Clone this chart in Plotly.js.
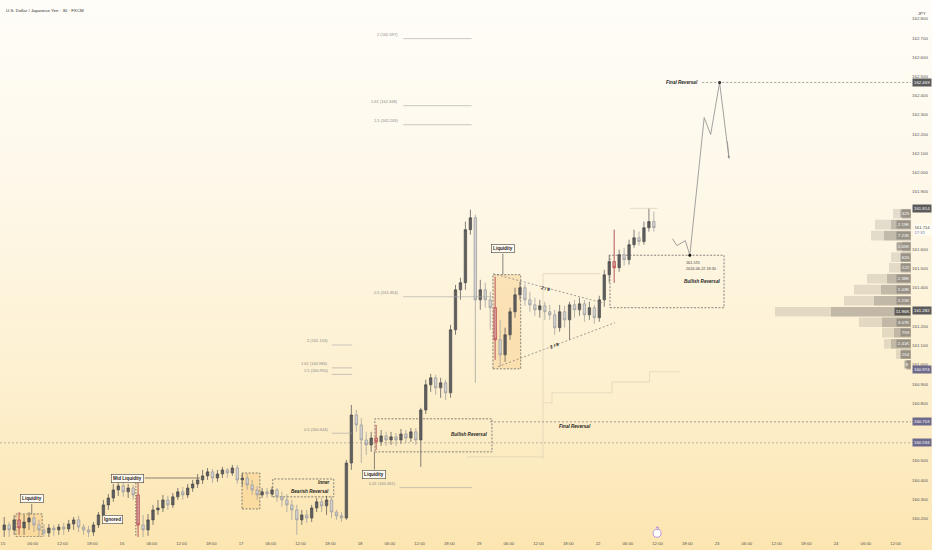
<!DOCTYPE html>
<html>
<head>
<meta charset="utf-8">
<script src="https://cdn.plot.ly/plotly-3.0.1.min.js"></script>
<style>
  html, body { margin: 0; padding: 0; }
  #chart {
    width: 932px;
    height: 550px;
    background: linear-gradient(to bottom, #fffdf8 0%, #fef8e9 35%, #fdf0cf 70%, #fce5b0 100%);
  }
</style>
</head>
<body>
<div id="chart"></div>
<script>
const FONT = "Liberation Sans, Arial, sans-serif";

// time axis: trading hours counted from day 15 00:00 (weekend skipped)
const dayLabels = ["15", "16", "17", "18", "19", "22", "23", "24"];
const hourLabels = ["06:00", "12:00", "18:00"];

// hourly candles, USDJPY
const open = [
  160.141, 160.167, 160.141, 160.193, 160.151, 160.182, 160.203, 160.167, 160.141, 160.125,
  160.151, 160.141, 160.156, 160.146, 160.172, 160.193, 160.156, 160.141, 160.130, 160.167,
  160.219, 160.271, 160.307, 160.349, 160.370, 160.339, 160.359, 160.323, 160.167, 160.141,
  160.193, 160.245, 160.255, 160.297, 160.271, 160.313, 160.339, 160.323, 160.359, 160.380,
  160.401, 160.422, 160.443, 160.411, 160.432, 160.453, 160.437, 160.463, 160.401, 160.411,
  160.375, 160.349, 160.323, 160.339, 160.328, 160.349, 160.313, 160.297, 160.271, 160.245,
  160.193, 160.219, 160.203, 160.255, 160.287, 160.266, 160.297, 160.234, 160.214, 160.203,
  160.489, 160.739, 160.687, 160.609, 160.583, 160.619, 160.599, 160.630, 160.609, 160.625,
  160.609, 160.640, 160.619, 160.651, 160.609, 160.765, 160.896, 160.932, 160.880, 160.906,
  160.854, 161.182, 161.390, 161.427, 161.703, 161.765, 161.338, 161.390, 161.338, 161.297,
  161.130, 161.052, 161.156, 161.276, 161.364, 161.401, 161.338, 161.312, 161.286, 161.307,
  161.276, 161.260, 161.193, 161.276, 161.234, 161.312, 161.286, 161.317, 161.260, 161.297,
  161.245, 161.338, 161.468, 161.537, 161.505, 161.573, 161.547, 161.625, 161.661, 161.641,
  161.713, 161.745
];
const high = [
  160.208, 160.182, 160.219, 160.234, 160.219, 160.234, 160.224, 160.193, 160.172, 160.172,
  160.167, 160.172, 160.177, 160.193, 160.208, 160.214, 160.172, 160.162, 160.182, 160.234,
  160.297, 160.328, 160.380, 160.391, 160.391, 160.380, 160.375, 160.391, 160.219, 160.224,
  160.271, 160.297, 160.323, 160.318, 160.333, 160.359, 160.365, 160.380, 160.401, 160.432,
  160.453, 160.463, 160.458, 160.453, 160.469, 160.463, 160.479, 160.479, 160.437, 160.432,
  160.401, 160.370, 160.359, 160.359, 160.365, 160.359, 160.339, 160.328, 160.297, 160.271,
  160.245, 160.245, 160.271, 160.307, 160.307, 160.318, 160.313, 160.245, 160.234, 160.505,
  160.791, 160.765, 160.723, 160.651, 160.651, 160.687, 160.661, 160.651, 160.651, 160.645,
  160.666, 160.661, 160.671, 160.671, 160.776, 160.922, 160.953, 160.948, 160.932, 160.922,
  161.208, 161.416, 161.453, 161.745, 161.807, 161.781, 161.442, 161.427, 161.380, 161.458,
  161.234, 161.193, 161.297, 161.401, 161.432, 161.421, 161.380, 161.349, 161.338, 161.328,
  161.312, 161.286, 161.312, 161.307, 161.328, 161.338, 161.349, 161.338, 161.328, 161.312,
  161.359, 161.494, 161.573, 161.703, 161.599, 161.609, 161.651, 161.703, 161.693, 161.745,
  161.814, 161.797
];
const low = [
  160.104, 160.104, 160.115, 160.115, 160.115, 160.141, 160.130, 160.104, 160.104, 160.104,
  160.110, 160.115, 160.115, 160.130, 160.141, 160.130, 160.115, 160.104, 160.110, 160.151,
  160.203, 160.245, 160.287, 160.318, 160.313, 160.307, 160.297, 160.104, 160.104, 160.110,
  160.167, 160.219, 160.234, 160.245, 160.255, 160.297, 160.297, 160.307, 160.339, 160.359,
  160.380, 160.401, 160.385, 160.391, 160.411, 160.411, 160.422, 160.380, 160.370, 160.349,
  160.323, 160.297, 160.307, 160.307, 160.313, 160.287, 160.261, 160.234, 160.193, 160.115,
  160.167, 160.177, 160.182, 160.234, 160.234, 160.219, 160.203, 160.193, 160.182, 160.193,
  160.453, 160.651, 160.489, 160.531, 160.547, 160.557, 160.578, 160.578, 160.583, 160.578,
  160.588, 160.593, 160.599, 160.583, 160.469, 160.744, 160.859, 160.844, 160.828, 160.817,
  160.828, 161.156, 161.338, 161.390, 161.677, 160.906, 161.286, 161.297, 161.182, 161.026,
  160.989, 161.015, 161.130, 161.245, 161.338, 161.307, 161.276, 161.255, 161.245, 161.234,
  161.234, 161.156, 161.172, 161.193, 161.130, 161.245, 161.255, 161.224, 161.234, 161.213,
  161.224, 161.302, 161.427, 161.427, 161.484, 161.516, 161.521, 161.609, 161.620, 161.625,
  161.693, 161.693
];
const close = [
  160.167, 160.141, 160.193, 160.151, 160.182, 160.203, 160.167, 160.141, 160.125, 160.151,
  160.141, 160.156, 160.146, 160.172, 160.193, 160.156, 160.141, 160.130, 160.167, 160.219,
  160.271, 160.307, 160.349, 160.370, 160.339, 160.359, 160.323, 160.167, 160.141, 160.193,
  160.245, 160.255, 160.297, 160.271, 160.313, 160.339, 160.323, 160.359, 160.380, 160.401,
  160.422, 160.443, 160.411, 160.432, 160.453, 160.437, 160.463, 160.401, 160.411, 160.375,
  160.349, 160.323, 160.339, 160.328, 160.349, 160.313, 160.297, 160.271, 160.245, 160.193,
  160.219, 160.203, 160.255, 160.287, 160.266, 160.297, 160.234, 160.214, 160.203, 160.489,
  160.739, 160.687, 160.609, 160.583, 160.619, 160.599, 160.630, 160.609, 160.625, 160.609,
  160.640, 160.619, 160.651, 160.609, 160.765, 160.896, 160.932, 160.880, 160.906, 160.854,
  161.182, 161.390, 161.427, 161.703, 161.765, 161.338, 161.390, 161.338, 161.297, 161.130,
  161.052, 161.156, 161.276, 161.364, 161.401, 161.338, 161.312, 161.286, 161.307, 161.276,
  161.260, 161.193, 161.276, 161.234, 161.312, 161.286, 161.317, 161.260, 161.297, 161.245,
  161.338, 161.468, 161.537, 161.505, 161.573, 161.547, 161.625, 161.661, 161.641, 161.713,
  161.745, 161.714
];
// candles marked red inside the liquidity boxes
const highlighted = [3, 27, 75, 99, 123];

// projected path drawn after the last candle
const projTime = [135.0, 135.9, 137.6, 138.5, 141.4, 142.7, 144.5, 146.4];
const projPrice = [161.656, 161.620, 161.646, 161.570, 162.286, 162.198, 162.469, 162.073];
const pivotTime = [138.5, 144.5];
const pivotPrice = [161.570, 162.469];

// volume profile rows
const profilePrice = [161.786, 161.729, 161.672, 161.615, 161.560, 161.505, 161.448, 161.391,
  161.333, 161.276, 161.221, 161.167, 161.109, 161.055, 161.000];
const profileTotal = [18, 36, 40, 14, 20, 22, 44, 57, 67, 136, 52, 29, 27, 15, 5];
const profileUp = [9, 20, 27, 9, 10, 10, 24, 30, 37, 80, 29, 17, 20, 10, 4];
const profileLabel = ["325", "2.19K", "7.21K", "1.65K", "620", "122", "2.38K", "1.03K",
  "2.21K", "11.96K", "3.07K", "759", "2.41K", "154", "8"];

// boxed values on the price scale
const markPrice = [162.469, 161.814, 161.282, 160.974, 160.703, 160.594];
const markColor = ["#5b5b5b", "#5b5b5b", "#5b5b5b", "#6e6a8c", "#6e6a8c", "#6e6a8c"];
const priceTicks = [160.2, 160.3, 160.4, 160.5, 160.6, 160.7, 160.8, 160.9, 161.0, 161.1, 161.2,
  161.3, 161.4, 161.5, 161.6, 161.7, 161.8, 161.9, 162.0, 162.1, 162.2, 162.3, 162.4, 162.5,
  162.6, 162.7, 162.8];

const X_MIN = -0.6, X_MAX = 183.1;
const lastClose = close[close.length - 1];

const tickvals = [], ticktext = [];
dayLabels.forEach((d, i) => {
  tickvals.push(i * 24);
  ticktext.push(d);
  hourLabels.forEach((h, j) => {
    tickvals.push(i * 24 + (j + 1) * 6);
    ticktext.push(h);
  });
});

// price ticks hidden behind the boxed labels are left out
const covered = markPrice.concat([lastClose]);
const yTicks = priceTicks.filter((p) => covered.every((m) => Math.abs(m - p) > 0.025));

const t = open.map((_, i) => i + 0.25);
const pick = (arr) => arr.map((v, i) => (highlighted.includes(i) ? v : null));

const shapes = [];
function line(x0, y0, x1, y1, color, dash, width) {
  shapes.push({ type: "line", xref: "x", yref: "y", x0, y0, x1, y1,
    line: { color: color || "#555", width: width || 0.7, dash: dash || "solid" } });
}
function box(x0, x1, y0, y1, fill) {
  shapes.push({ type: "rect", xref: "x", yref: "y", x0, x1, y0, y1, layer: "below",
    fillcolor: fill || "rgba(0,0,0,0)", line: { color: "#555", width: 0.7, dash: "2px,1.5px" } });
}

const annotations = [];
function note(x, y, text, opts) {
  annotations.push(Object.assign({ x, y, xref: "x", yref: "y", text, showarrow: false,
    font: { family: FONT, size: 4.6, color: "#1e1e1e" } }, opts || {}));
}
function tag(x, y, text) {
  note(x, y, "<b>" + text + "</b>", { bgcolor: "#fffaf0", bordercolor: "#444", borderwidth: 0.6, borderpad: 1.5,
    font: { family: FONT, size: 4.6, color: "#1e1e1e" } });
}
function fib(label, level, xLabel, x0, x1) {
  line(x0, level, x1, level, "#a6a6a6", "solid", 0.6);
  note(xLabel, level, label, { xanchor: "right", yshift: 4, font: { family: FONT, size: 4, color: "#8a8a8a" } });
}
const bi = (s) => "<b><i>" + s + "</i></b>";
const ORANGE = "rgba(248,196,120,0.38)";
const FAINT = "#dcd1b6";
const DASH = "2px,2px";

// day 15 / 16
box(2.6, 7.9, 160.105, 160.224, ORANGE);
line(5.8, 160.276, 5.8, 160.224, "#555");
tag(5.8, 160.302, "Liquidity");
tag(22.0, 160.193, "Ignored");
line(28.6, 160.411, 39.7, 160.411, "#555");
line(26.8, 160.385, 26.8, 160.11, "#333", "1.5px,1.5px");
tag(25.2, 160.411, "Mid Liquidity");

// day 17
box(48.2, 51.8, 160.250, 160.437, ORANGE);
box(54.4, 66.7, 160.313, 160.406);
note(66.1, 160.385, bi("Inner"), { xanchor: "right" });
note(66.1, 160.343, bi("Bearish Reversal"), { xanchor: "right" });

// day 18
box(75.0, 98.6, 160.547, 160.719);
note(98.0, 160.636, bi("Bullish Reversal"), { xanchor: "right" });
line(74.9, 160.547, 74.9, 160.455, "#555");
tag(74.9, 160.427, "Liquidity");

fib("2 (161.103)", 161.103, 65.9, 66.3, 70.4);
fib("1.61 (160.984)", 160.984, 65.9, 66.3, 70.4);
fib("1.5 (160.950)", 160.950, 65.9, 66.3, 70.4);
fib("0.5 (160.644)", 160.644, 65.9, 66.3, 70.4);
fib("0.41 (160.361)", 160.361, 79.6, 80.0, 94.6);
fib("2 (162.697)", 162.697, 80.0, 80.7, 94.5);
fib("1.61 (162.348)", 162.348, 80.0, 80.7, 94.5);
fib("1.5 (162.249)", 162.249, 80.0, 80.7, 94.5);
fib("0.5 (161.354)", 161.354, 80.0, 80.7, 98.8);

// day 19 triangle
box(98.8, 104.4, 160.979, 161.469, ORANGE);
line(100.8, 161.578, 100.8, 161.469, "#555");
tag(100.8, 161.604, "Liquidity");
line(98.8, 161.474, 120.8, 161.323, "#777", DASH);
line(99.8, 160.990, 123.4, 161.219, "#777", DASH);
note(109.3, 161.396, "<b>2 / 8</b>", { textangle: 15 });
note(111.3, 161.100, "<b>2 / 8</b>", { textangle: -21 });

// faint structure lines
line(108.9, 160.510, 108.9, 161.474, FAINT);
line(108.9, 161.474, 120.4, 161.474, FAINT);
line(93.5, 160.521, 108.9, 160.521, FAINT);
line(108.9, 160.802, 110.7, 160.802, FAINT);
line(110.7, 160.802, 110.7, 160.854, FAINT);
line(110.7, 160.854, 122.8, 160.854, FAINT);
line(122.8, 160.854, 122.8, 160.911, FAINT);
line(122.8, 160.911, 130.4, 160.911, FAINT);
line(130.4, 160.911, 130.4, 160.964, FAINT);
line(130.4, 160.964, 136.5, 160.964, FAINT);
line(126.4, 161.814, 132.0, 161.814, FAINT);

// day 22 / projection
box(122.4, 145.4, 161.297, 161.570);
note(145.0, 161.432, bi("Bullish Reversal"), { xanchor: "right" });
note(137.4, 161.528, "161.570", { xanchor: "left", font: { family: FONT, size: 3.8, color: "#444" } });
note(137.4, 161.497, "2024-06-22 18:30", { xanchor: "left", font: { family: FONT, size: 3.8, color: "#444" } });
line(141.0, 162.469, X_MAX, 162.469, "#777", DASH);
note(140.6, 162.469, bi("Final Reversal"), { xanchor: "right" });
line(98.2, 160.703, X_MAX, 160.703, "#777", DASH);
note(115.3, 160.677, bi("Final Reversal"));
line(X_MIN, 160.594, X_MAX, 160.594, "#888", DASH, 0.6);
annotations.push({ x: projTime[projTime.length - 1], y: projPrice[projPrice.length - 1], xref: "x", yref: "y",
  ax: 146.05, ay: 162.17, axref: "x", ayref: "y", text: "", showarrow: true,
  arrowhead: 2, arrowsize: 0.7, arrowwidth: 0.7, arrowcolor: "#8c8c8c" });

// economic event marker
shapes.push({ type: "circle", xref: "x", yref: "paper", x0: 131.1, x1: 132.7, y0: -0.0005, y1: 0.0145,
  fillcolor: "#ffffff", line: { color: "#9b6fe0", width: 0.7 } });
annotations.push({ x: 131.9, y: 0.007, xref: "x", yref: "paper", text: "ϟ", showarrow: false,
  font: { family: FONT, size: 5, color: "#8f5fdc" } });

// volume profile labels
profileLabel.forEach((s, i) => {
  const poc = profileTotal[i] === Math.max(...profileTotal);
  annotations.push({ x: 0, y: profilePrice[i], xref: "x2", yref: "y", xanchor: "right", text: s, showarrow: false,
    bgcolor: poc ? "rgba(88,84,78,0.92)" : "rgba(120,113,104,0.55)", borderpad: 0.8,
    font: { family: FONT, size: 4.4, color: "#ffffff" } });
});

// price scale boxes
markPrice.forEach((p, i) => {
  annotations.push({ x: 1, y: p, xref: "paper", yref: "y", xanchor: "left", xshift: 1, text: p.toFixed(3),
    showarrow: false, bgcolor: markColor[i], borderpad: 1, font: { family: FONT, size: 4.3, color: "#ffffff" } });
});
annotations.push({ x: 1, y: lastClose, xref: "paper", yref: "y", xanchor: "left", xshift: 2, yshift: -2,
  text: lastClose.toFixed(3) + "<br><span style='color:#6a7bb0'>17:31</span>", showarrow: false,
  bgcolor: "rgba(255,253,245,0.85)", borderpad: 0.5, align: "left", font: { family: FONT, size: 4.2, color: "#444" } });

annotations.push({ x: 0.004, y: 0.989, xref: "paper", yref: "paper", xanchor: "left", showarrow: false,
  text: "U.S. Dollar / Japanese Yen · 30 · FXCM", font: { family: FONT, size: 4.4, color: "#333" } });
annotations.push({ x: 1, y: 0.983, xref: "paper", yref: "paper", xanchor: "left", xshift: 5, showarrow: false,
  text: "JPY", font: { family: FONT, size: 4.2, color: "#444" } });

const traces = [
  {
    type: "bar", orientation: "h", x: profileTotal, y: profilePrice, xaxis: "x2", yaxis: "y",
    width: 0.05, marker: { color: "rgba(170,160,145,0.30)" }, hoverinfo: "skip"
  },
  {
    type: "bar", orientation: "h", x: profileUp, y: profilePrice, xaxis: "x2", yaxis: "y",
    width: 0.05, marker: { color: "rgba(140,132,120,0.38)" }, hoverinfo: "skip"
  },
  {
    type: "candlestick", x: t, open, high, low, close,
    increasing: { line: { color: "#4d4d4d", width: 0.7 }, fillcolor: "#5e5e5e" },
    decreasing: { line: { color: "#9a9a9a", width: 0.7 }, fillcolor: "#d2d2d2" },
    hoverinfo: "skip"
  },
  {
    type: "candlestick", x: t, open: pick(open), high: pick(high), low: pick(low), close: pick(close),
    increasing: { line: { color: "#d24a4a", width: 0.7 }, fillcolor: "rgba(220,80,80,0.35)" },
    decreasing: { line: { color: "#d24a4a", width: 0.7 }, fillcolor: "rgba(220,80,80,0.35)" },
    hoverinfo: "skip"
  },
  {
    type: "scatter", mode: "lines", x: projTime, y: projPrice,
    line: { color: "#8c8c8c", width: 0.8 }, hoverinfo: "skip"
  },
  {
    type: "scatter", mode: "markers", x: pivotTime, y: pivotPrice,
    marker: { color: "#111", size: 3 }, hoverinfo: "skip"
  }
];

const layout = {
  width: 932,
  height: 550,
  margin: { l: 0, r: 21, t: 0, b: 13 },
  paper_bgcolor: "rgba(0,0,0,0)",
  plot_bgcolor: "rgba(0,0,0,0)",
  showlegend: false,
  barmode: "overlay",
  font: { family: FONT },
  xaxis: {
    range: [X_MIN, X_MAX], tickmode: "array", tickvals, ticktext,
    showgrid: false, zeroline: false, showline: false, ticks: "", ticklabelstandoff: 3,
    tickfont: { family: FONT, size: 4.3, color: "#555" },
    rangeslider: { visible: false }, fixedrange: true
  },
  xaxis2: { overlaying: "x", anchor: "y", range: [911, 0], visible: false, showgrid: false, zeroline: false },
  yaxis: {
    side: "right", range: [160.104, 162.898], tickmode: "array", tickvals: yTicks,
    ticktext: yTicks.map((p) => p.toFixed(3)),
    showgrid: false, zeroline: false, showline: false, ticks: "",
    tickfont: { family: FONT, size: 4.4, color: "#555" }, fixedrange: true
  },
  shapes,
  annotations
};

Plotly.newPlot("chart", traces, layout, { displayModeBar: false, staticPlot: true });
</script>
</body>
</html>
